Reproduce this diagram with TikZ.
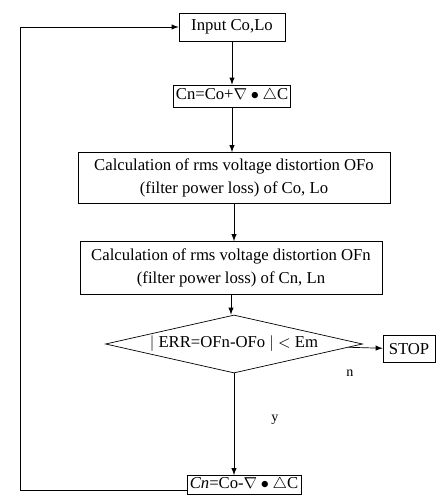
\documentclass[tikz,border=0pt]{standalone}
\usepackage{fontspec}
\setmainfont{Liberation Serif}
\usepackage{tikz}
\usetikzlibrary{positioning,arrows,shapes}

\begin{document}
\begin{tikzpicture}[x=0.02cm,y=-0.02cm,>=latex]
	\tikzset{box/.style={draw,inner sep=1pt,align=center,font=\fontsize{9.5}{13}\selectfont}}
	\tikzset{test/.style={draw,diamond,aspect=4.4,inner sep=0pt,font=\fontsize{9.5}{13}\selectfont}}
	\useasboundingbox (0,0) rectangle (437,499);

	%% flow boxes
	\node[box,minimum width=106*0.02cm,minimum height=28*0.02cm] (in) at (232,27) {Input Co,Lo};
	\node[box,minimum width=117*0.02cm,minimum height=22*0.02cm] (cn) at (232,96) {Cn=Co+$\nabla\bullet\triangle$C};
	\node[box,minimum width=312*0.02cm,minimum height=51*0.02cm] (calo) at (234,178)
		{Calculation of rms voltage distortion OFo\\(filter power loss) of Co, Lo};
	\node[box,minimum width=302*0.02cm,minimum height=53*0.02cm] (caln) at (231,268)
		{Calculation of rms voltage distortion OFn\\(filter power loss) of Cn, Ln};
	\node[test,minimum width=257*0.02cm,minimum height=58*0.02cm] (err) at (234,344) {$|$ ERR=OFn-OFo $|$ $<$ Em};
	\node[box,minimum width=52*0.02cm,minimum height=27*0.02cm] (stop) at (409,349) {STOP};
	\node[box,minimum width=114*0.02cm,minimum height=19*0.02cm] (upd) at (244,485) {\textit{Cn}=Co-$\nabla\bullet\triangle$C};

	%% branch letters
	\node[font=\fontsize{8}{10}\selectfont] (ln) at (350,373) {n};
	\node[font=\fontsize{8}{10}\selectfont] (ly) at (275,420) {y};

	\path[->]
		(in) edge (cn)
		(cn.south) edge (cn.south |- calo.north)
		(calo.south) edge (calo.south |- caln.north)
		(caln.south) edge (caln.south |- err.north)
		(err) edge (stop)
		(err.south) edge (err.south |- upd.north);

	%% loop back
	\coordinate (lb) at (20,490);
	\draw[->] (upd.west |- lb) -- (lb) -- (lb |- in.west) -- (in.west);
\end{tikzpicture}
\end{document}
